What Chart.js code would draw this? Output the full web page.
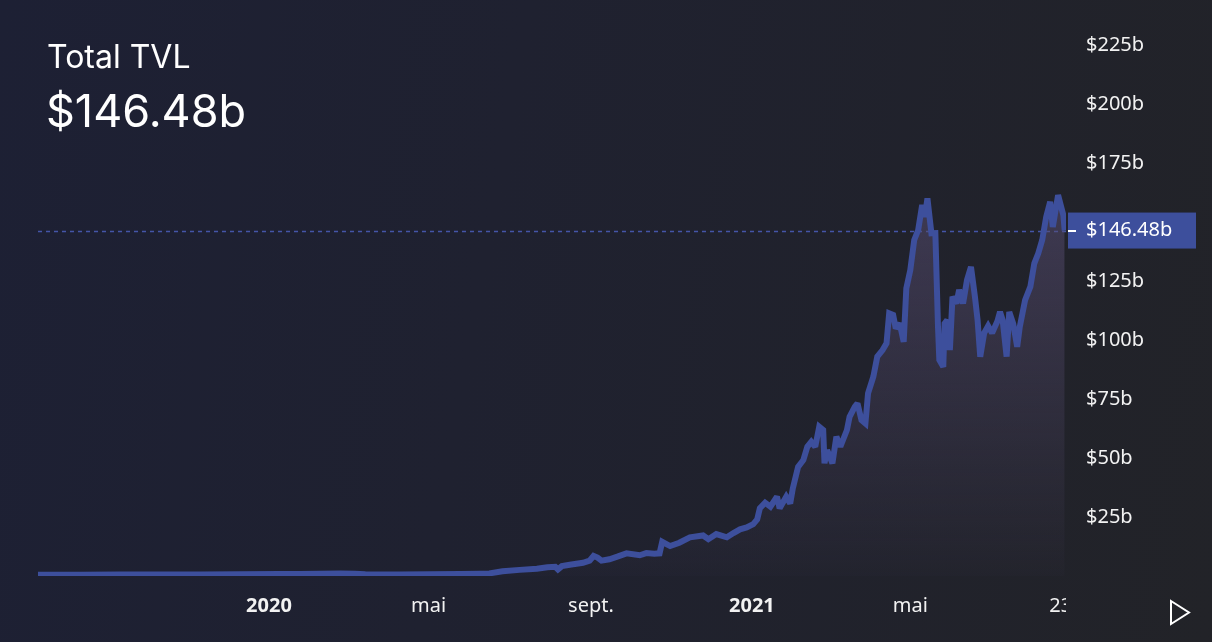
<!DOCTYPE html>
<html>
<head>
<meta charset="utf-8">
<script src="https://cdn.jsdelivr.net/npm/chart.js@4/dist/chart.umd.min.js"></script>
<style>
  html, body { margin: 0; padding: 0; }
  body { width: 1212px; height: 642px; overflow: hidden;
         background: linear-gradient(100deg, #1d2034 0%, #1f2130 40%, #222328 100%); }
  #wrap { position: relative; width: 1212px; height: 642px; }
</style>
</head>
<body>
<div id="wrap"><canvas id="c"></canvas></div>
<script>
// Days since 2019-07-10
const days = [
  0,32,62,92,123,153,183,198,214,229,
  240,248,259,274,297,320,335,342,352,365,
  378,386,392,394,397,403,413,418,421,424,
  427,433,439,446,456,461,467,471,473,479,
  486,494,504,508,514,522,527,532,537,542,
  545,547,551,555,560,562,567,570,572,576,
  580,583,586,589,592,595,596,598,602,605,
  608,613,615,619,621,624,627,629,633,636,
  640,643,645,648,650,653,656,658,661,664,
  667,670,672,674,677,680,681,682,683,686,
  687,689,691,693,696,698,701,704,707,710,
  712,714,717,720,723,727,729,731,734,736,
  739,742,744,748,752,755,758,761,764,767,
  769,773,777,778
];
// Total value locked, billions of USD
const tvl = [
  0.5,0.55,0.6,0.6,0.65,0.7,0.8,0.85,1.0,1.1,
  1.0,0.7,0.6,0.65,0.75,0.9,1.0,1.1,2.0,2.6,
  3.1,3.7,3.9,2.8,4.2,4.8,5.6,6.5,8.5,7.8,
  6.5,7.1,8.2,9.6,8.8,9.7,9.4,9.6,14.5,12.7,
  14.1,16.4,17.2,15.6,17.8,16.4,18.2,19.8,20.6,22.0,
  24,28.7,31.1,29.4,33.6,28.7,33.6,30.8,37.2,46.3,
  49.2,54.8,56.9,54.8,63.3,61.9,47.8,53.4,47.8,59.1,
  54.8,61.9,67.5,71.8,73.2,66.1,64.7,77.5,84.5,93,
  95.8,98.7,111.4,110.7,105,107.1,99.3,122,129.7,142.5,
  146.7,157.3,152.3,160.1,145.3,145.4,125.5,105.7,91.6,88.7,
  107,108.5,95.8,118.4,115.6,121.3,115.6,125.5,131.1,118.4,
  108.5,93,103,106,103,108,112,108.5,93,112,
  107,97.2,105.7,117,122.7,132.6,136.8,142.5,152.3,158.7,
  148,161.5,153,146.48
];
const xTickDays = [175, 296, 419, 541, 661, 775];
const xTickLabels = ['2020', 'mai', 'sept.', '2021', 'mai', '23'];
const xTickBold = [true, false, false, true, false, false];
const yTickValues = [25, 50, 75, 100, 125, 175, 200, 225];
const titleText = 'Total TVL';
const currentValue = 146.48;
const currentLabel = '$146.48b';

const LINE = '#3d4f9c';
const W = 1212, H = 642;
const AXIS_FONT = '"Noto Sans", "DejaVu Sans", sans-serif';

const clipPlugin = {
  id: 'clipCorner',
  beforeDraw(chart) {
    const ctx = chart.ctx, ca = chart.chartArea;
    ctx.save();
    ctx.beginPath();
    ctx.rect(0, 0, ca.right, H);
    ctx.rect(ca.right, 0, W - ca.right, ca.bottom + 8);
    ctx.clip();
  },
  beforeDatasetsDraw(chart) {
    const ctx = chart.ctx, ca = chart.chartArea;
    ctx.restore();
    const y = Math.round(chart.scales.y.getPixelForValue(currentValue)) + 0.5;
    ctx.save();
    ctx.strokeStyle = '#4455a8';
    ctx.lineWidth = 1.5;
    ctx.setLineDash([4, 4]);
    ctx.beginPath();
    ctx.moveTo(ca.left, y);
    ctx.lineTo(ca.right, y);
    ctx.stroke();
    ctx.restore();
    ctx.miterLimit = 2.2;
  },
  afterDatasetsDraw(chart) {
    chart.ctx.miterLimit = 10;
  },
  afterDraw(chart) {
    const ctx = chart.ctx, ca = chart.chartArea;
    const y = chart.scales.y.getPixelForValue(currentValue);
    ctx.save();
    ctx.fillStyle = LINE;
    ctx.fillRect(ca.right + 2, y - 18, 128, 36);
    ctx.fillStyle = '#ffffff';
    ctx.fillRect(ca.right + 2, Math.round(y) - 1, 8, 2);
    ctx.font = '20px ' + AXIS_FONT;
    ctx.textBaseline = 'middle';
    ctx.textAlign = 'left';
    ctx.fillText(currentLabel, ca.right + 20, y);
    ctx.font = '400 32px Inter, "Noto Sans", sans-serif';
    ctx.textBaseline = 'alphabetic';
    ctx.fillText(titleText, 47, 68);
    ctx.font = '400 45px Inter, "Noto Sans", sans-serif';
    ctx.fillText(currentLabel, 46, 127);
    ctx.strokeStyle = '#ffffff';
    ctx.lineWidth = 2;
    ctx.lineJoin = 'miter';
    ctx.beginPath();
    ctx.moveTo(1171, 601);
    ctx.lineTo(1189, 612.5);
    ctx.lineTo(1171, 624);
    ctx.closePath();
    ctx.stroke();
    ctx.restore();
  }
};

new Chart(document.getElementById('c'), {
  type: 'line',
  data: {
    datasets: [{
      data: days.map((d, i) => ({ x: d, y: tvl[i] })),
      borderColor: LINE,
      borderWidth: 6,
      borderJoinStyle: 'miter',
      pointRadius: 0,
      pointHoverRadius: 0,
      tension: 0,
      fill: 'origin',
      backgroundColor(ctx) {
        const ca = ctx.chart.chartArea;
        if (!ca) return 'rgba(80,70,100,0.4)';
        const g = ctx.chart.ctx.createLinearGradient(0, ca.top, 0, ca.bottom);
        g.addColorStop(0, 'rgba(86,76,112,0.8)');
        g.addColorStop(0.35, 'rgba(86,76,112,0.55)');
        g.addColorStop(1, 'rgba(86,76,112,0.04)');
        return g;
      }
    }]
  },
  options: {
    responsive: true,
    maintainAspectRatio: false,
    animation: false,
    events: [],
    layout: { padding: { left: 38, top: 10, right: 0, bottom: 0 } },
    plugins: { legend: { display: false }, tooltip: { enabled: false }, title: { display: false } },
    scales: {
      x: {
        type: 'linear',
        min: 0,
        max: 779,
        grid: { display: false, drawTicks: false },
        border: { display: false },
        afterBuildTicks(scale) { scale.ticks = xTickDays.map(v => ({ value: v })); },
        afterFit(scale) { scale.height = 66; scale.paddingLeft = 0; scale.paddingRight = 0; },
        ticks: {
          autoSkip: false,
          maxRotation: 0,
          padding: 18,
          color: '#f2f2f2',
          font(ctx) {
            const i = ctx.index;
            return { family: AXIS_FONT, size: 20, weight: (i !== undefined && xTickBold[i]) ? 'bold' : 'normal' };
          },
          callback(value, index) { return xTickLabels[index]; }
        }
      },
      y: {
        position: 'right',
        min: 0,
        max: 240,
        grid: { display: false, drawTicks: false },
        border: { display: false },
        afterBuildTicks(scale) { scale.ticks = yTickValues.map(v => ({ value: v })); },
        afterFit(scale) { scale.width = 146; scale.paddingTop = 0; scale.paddingBottom = 0; },
        ticks: {
          padding: 20,
          color: '#f2f2f2',
          font: { family: AXIS_FONT, size: 20 },
          callback(value) { return '$' + value + 'b'; }
        }
      }
    }
  },
  plugins: [clipPlugin]
});
</script>
</body>
</html>
